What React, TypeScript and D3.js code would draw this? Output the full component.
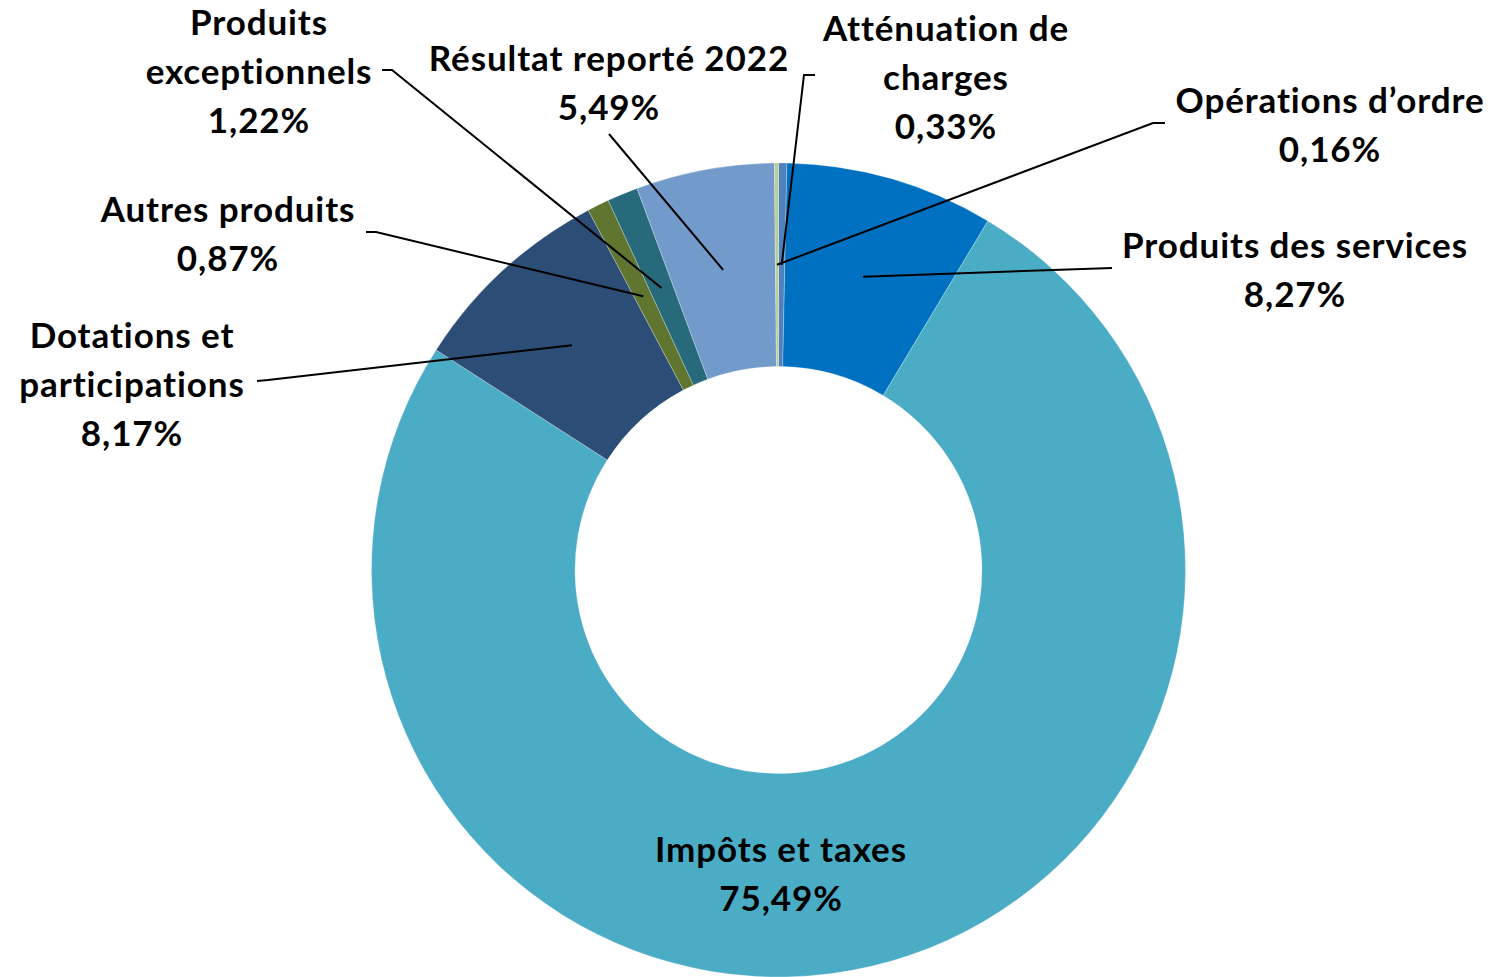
import React, { useEffect, useRef } from 'react';
import * as d3 from 'd3';

// Budget shares, clockwise from 12 o'clock
const categories = [
  'Atténuation de charges',
  'Produits des services',
  'Impôts et taxes',
  'Dotations et participations',
  'Autres produits',
  'Produits exceptionnels',
  'Résultat reporté 2022',
  "Opérations d'ordre",
];
const shares = [0.33, 8.27, 75.49, 8.17, 0.87, 1.22, 5.49, 0.16];
const colors = ['#4F81BD', '#0070C0', '#4BACC6', '#2C4D75', '#5F7530', '#276A7C', '#729ACA', '#B9CD96'];

// label lines as shown (the last line is the formatted share)
const labelLines = [
  ['Atténuation de', 'charges'],
  ['Produits des services'],
  ['Impôts et taxes'],
  ['Dotations et', 'participations'],
  ['Autres produits'],
  ['Produits', 'exceptionnels'],
  ['Résultat reporté 2022'],
  ['Opérations d’ordre'],
];

// label layout: text centre x, first line centre y, leader points from the label side
const labelLayout: { x: number; y: number; leader: [number, number][] }[] = [
  { x: 946, y: 28, leader: [[815, 75], [804, 75]] },
  { x: 1295, y: 245, leader: [[1112, 268]] },
  { x: 781, y: 849, leader: [] },
  { x: 132, y: 335, leader: [[257, 381], [268, 380]] },
  { x: 228, y: 209, leader: [[366, 232], [376, 232]] },
  { x: 259, y: 22, leader: [[382, 70], [392, 70]] },
  { x: 609, y: 58, leader: [[609, 134]] },
  { x: 1330, y: 100, leader: [[1165, 123], [1153, 123]] },
];

const W = 1494;
const H = 977;
const cx = 778.5;
const cy = 570;
const outerR = 407;
const innerR = 203.5;
const lineGap = 49;

const fmt = (v: number) => v.toFixed(2).replace('.', ',') + '%';

const App: React.FC = () => {
  const svgRef = useRef<SVGSVGElement>(null);

  useEffect(() => {
    if (!svgRef.current) return;
    const svg = d3.select(svgRef.current);
    svg.selectAll('*').remove();

    svg.append('rect').attr('width', W).attr('height', H).attr('fill', 'white');

    const pie = d3.pie<number>().sort(null).value(d => d);
    const arcs = pie(shares);
    const arc = d3.arc<d3.PieArcDatum<number>>().innerRadius(innerR).outerRadius(outerR);

    const g = svg.append('g').attr('transform', `translate(${cx},${cy})`);

    g.selectAll('path.slice')
      .data(arcs)
      .join('path')
      .attr('class', 'slice')
      .attr('d', arc)
      .attr('fill', (_, i) => colors[i])
      .attr('stroke', 'rgba(255,255,255,0.45)')
      .attr('stroke-width', 0.6);

    // leader lines from slice centroid to the label
    const lineGen = d3.line();
    arcs.forEach((a, i) => {
      const lay = labelLayout[i];
      if (!lay.leader.length) return;
      const [mx, my] = arc.centroid(a);
      const pts: [number, number][] = [...lay.leader, [mx + cx, my + cy]];
      svg.append('path')
        .attr('d', lineGen(pts))
        .attr('fill', 'none')
        .attr('stroke', '#000')
        .attr('stroke-width', 2);
    });

    // labels
    const labels = svg.append('g')
      .attr('font-family', 'Lato, "Noto Sans", sans-serif')
      .attr('font-weight', 700)
      .attr('font-size', 35)
      .attr('letter-spacing', 0.9)
      .attr('text-anchor', 'middle')
      .attr('fill', '#000');

    arcs.forEach((a, i) => {
      const lay = labelLayout[i];
      const lines = [...labelLines[i], fmt(shares[i])];
      lines.forEach((t, j) => {
        labels.append('text')
          .attr('x', lay.x)
          .attr('y', lay.y + j * lineGap)
          .attr('dy', '0.36em')
          .text(t);
      });
    });
  }, []);

  return (
    <svg
      ref={svgRef}
      width={W}
      height={H}
      style={{ position: 'absolute', left: 0, top: 0, display: 'block' }}
    />
  );
};

export default App;
